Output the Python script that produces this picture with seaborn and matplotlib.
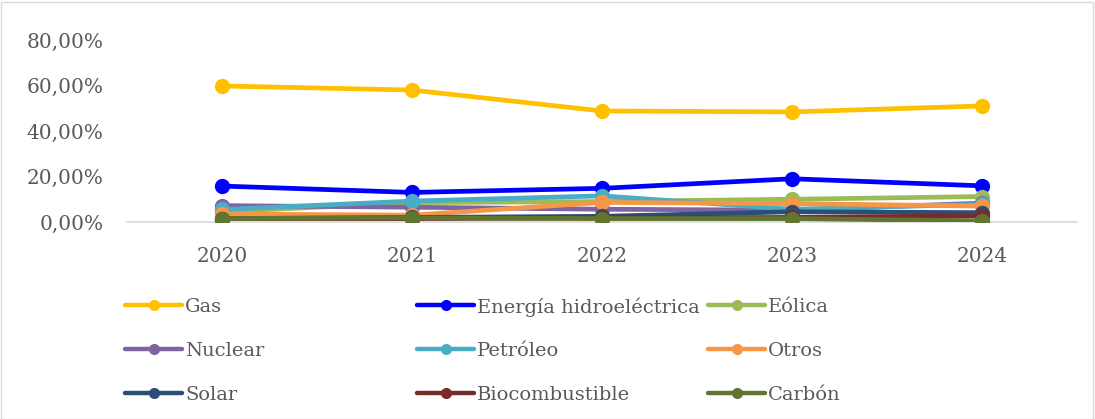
import matplotlib
matplotlib.use("Agg")
import matplotlib.pyplot as plt
from matplotlib.lines import Line2D
from matplotlib.patches import Rectangle
from matplotlib.ticker import FuncFormatter
import seaborn as sns
import pandas as pd

years = ["2020", "2021", "2022", "2023", "2024"]

gas = [0.598, 0.580, 0.488, 0.484, 0.510]
hidro = [0.158, 0.130, 0.148, 0.190, 0.159]
eolica = [0.045, 0.085, 0.090, 0.100, 0.112]
nuclear = [0.072, 0.065, 0.056, 0.052, 0.083]
petroleo = [0.055, 0.092, 0.115, 0.056, 0.078]
otros = [0.035, 0.030, 0.086, 0.081, 0.070]
solar = [0.015, 0.020, 0.025, 0.045, 0.041]
biocomb = [0.015, 0.015, 0.018, 0.020, 0.027]
carbon = [0.015, 0.018, 0.015, 0.015, 0.005]

series_names = ["Gas", "Energía hidroeléctrica", "Eólica", "Nuclear", "Petróleo",
                "Otros", "Solar", "Biocombustible", "Carbón"]
series_values = [gas, hidro, eolica, nuclear, petroleo, otros, solar, biocomb, carbon]
colors = ["#FFC000", "#0000FF", "#9BBB59", "#8064A2", "#4BACC6",
          "#F79646", "#2C4D75", "#772C2A", "#5F7530"]

rows = []
for name, vals in zip(series_names, series_values):
    for y, v in zip(years, vals):
        rows.append({"Año": y, "Fuente": name, "Valor": v})
df = pd.DataFrame(rows)

sns.set_theme(style="white")
plt.rcParams["font.family"] = ["DejaVu Serif"]
text_color = "#595959"
fs = 14.5

W, H = 1095, 419
fig = plt.figure(figsize=(W / 100, H / 100), dpi=100)
ax = fig.add_axes([127 / W, 1 - 222 / H, 950 / W, 182 / H])

sns.lineplot(data=df, x="Año", y="Valor", hue="Fuente", hue_order=series_names,
             palette=colors, marker="o", markersize=11, markeredgewidth=0,
             linewidth=3.4, sort=False, legend=False, ax=ax)

ax.set_xlim(-0.5, len(years) - 0.5)
ax.set_ylim(0, 0.8)
ax.set_yticks([0, 0.2, 0.4, 0.6, 0.8])
ax.yaxis.set_major_formatter(
    FuncFormatter(lambda v, p: f"{v * 100:.2f}".replace(".", ",") + "%"))
ax.set_xlabel("")
ax.set_ylabel("")
for s in ["top", "right", "left"]:
    ax.spines[s].set_visible(False)
ax.spines["bottom"].set_color("#D9D9D9")
ax.spines["bottom"].set_linewidth(1.2)
ax.spines["bottom"].set_zorder(0)
ax.tick_params(axis="both", length=0, labelsize=fs, labelcolor=text_color)
ax.tick_params(axis="x", pad=18)
ax.tick_params(axis="y", pad=17)

# Legend: 3 x 3 grid of swatches with equal-width columns
col_x = [125, 417, 708]
row_y = [305, 349, 393]
swatch_w = 57
for i, name in enumerate(series_names):
    r, c = divmod(i, 3)
    x0, y0 = col_x[c], row_y[r]
    fig.add_artist(Line2D([x0 / W, (x0 + swatch_w) / W], [1 - y0 / H, 1 - y0 / H],
                          transform=fig.transFigure, color=colors[i], linewidth=3.2,
                          solid_capstyle="round"))
    fig.add_artist(Line2D([(x0 + swatch_w / 2) / W], [1 - y0 / H],
                          transform=fig.transFigure, color=colors[i], marker="o",
                          markersize=8, markeredgewidth=0, linestyle="none"))
    fig.text((x0 + swatch_w + 3) / W, 1 - y0 / H, name, fontsize=14,
             color=text_color, ha="left", va="center_baseline")

fig.patches.append(Rectangle((0.5 / W, 0.5 / H), (W - 2.5) / W, (H - 2.5) / H,
                             transform=fig.transFigure, fill=False,
                             edgecolor="#D9D9D9", linewidth=1))

fig.savefig("out.png", dpi=100)
